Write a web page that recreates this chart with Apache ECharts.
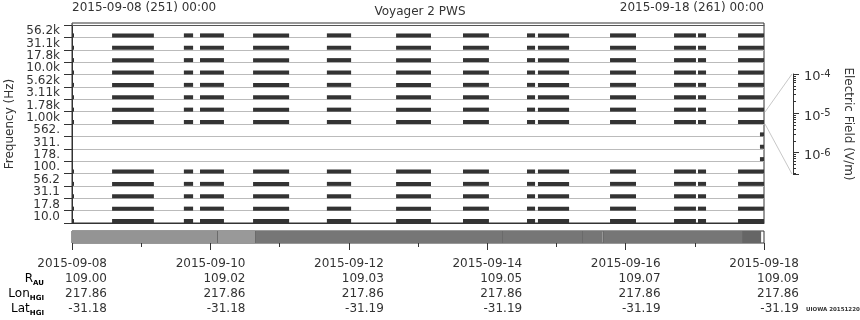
<!DOCTYPE html>
<html><head><meta charset="utf-8">
<script src="https://cdn.jsdelivr.net/npm/echarts@6/dist/echarts.min.js"></script>
<style>html,body{margin:0;padding:0;background:#fff}#c{width:860px;height:320px}</style>
</head><body><div id="c"></div>
<script>
// Frequency channels (top to bottom)
const freqLabels = ['56.2k','31.1k','17.8k','10.0k','5.62k','3.11k','1.78k','1.00k','562.','311.','178.','100.','56.2','31.1','17.8','10.0'];
// Channels with data coverage
const activeRows = ['56.2k','31.1k','17.8k','10.0k','5.62k','3.11k','1.78k','1.00k','100.','56.2','31.1','17.8','10.0'];
// Data segments, hours since 2015-09-08 00:00
const segStartHours = [0, 13.9, 38.8, 44.4, 62.8, 88.4, 112.4, 135.6, 157.8, 161.6, 186.6, 208.8, 217.1, 231.0];
const segEndHours   = [0.7, 28.4, 42.0, 52.7, 75.3, 96.8, 124.5, 144.6, 160.6, 172.4, 195.6, 216.4, 219.9, 240];
// Channels with only a short segment at the very end
const edgeRows = ['562.','311.','178.'];
const edgeStartHours = [238.6];
const edgeEndHours = [240];
// Mode strip segments
const modeStartHours = [0, 50.3, 63.5, 149.3, 177, 184, 232.4];
const modeEndHours   = [50.3, 63.5, 149.3, 177, 184, 232.4, 239];
const modeIds        = [0, 3, 1, 1, 1, 1, 2];
// Bottom tick labels (every 2 days)
const tickDates = ['2015-09-08','2015-09-10','2015-09-12','2015-09-14','2015-09-16','2015-09-18'];
const rAU    = ['109.00','109.02','109.03','109.05','109.07','109.09'];
const lonHGI = ['217.86','217.86','217.86','217.86','217.86','217.86'];
const latHGI = ['-31.18','-31.18','-31.19','-31.19','-31.19','-31.19'];
// Colour-bar field scale (V/m)
const fieldMin = 2.85e-7;
const fieldMax = 1e-4;

const modePalette = ['#949494', '#767676', '#666666', '#999999'];
const FONT = 'DejaVu Sans';
const TXT = '#333';

const barData = [];
activeRows.forEach(r => segStartHours.forEach((s, i) => barData.push([s, segEndHours[i], r])));
edgeRows.forEach(r => edgeStartHours.forEach((s, i) => barData.push([s, edgeEndHours[i], r])));
const modeData = modeStartHours.map((s, i) => [s, modeEndHours[i], modeIds[i]]);

const G = {outerBoundsMode: 'none', containLabel: false};
const chart = echarts.init(document.getElementById('c'), null, {renderer: 'canvas'});
chart.setOption({
  animation: false,
  backgroundColor: '#fff',
  textStyle: {fontFamily: FONT, color: TXT},
  grid: [
    Object.assign({left: 72, top: 23, width: 692, height: 200, show: true, borderColor: '#333', borderWidth: 1, backgroundColor: 'transparent'}, G),
    Object.assign({left: 72, top: 25, width: 692, height: 198}, G),
    Object.assign({left: 72, top: 231, width: 692, height: 12, show: true, borderColor: '#333', borderWidth: 1, backgroundColor: 'transparent'}, G),
    Object.assign({left: 793, top: 74, width: 1, height: 100}, G)
  ],
  xAxis: [
    {gridIndex: 0, type: 'value', min: 0, max: 240, show: false},
    {gridIndex: 1, type: 'value', min: 0, max: 240, position: 'bottom',
      axisLine: {show: true, lineStyle: {color: '#333'}}, axisTick: {show: false}, axisLabel: {show: false}, splitLine: {show: false}},
    {gridIndex: 1, type: 'value', min: 0, max: 240, position: 'top',
      axisLine: {show: true, lineStyle: {color: '#555'}}, axisTick: {show: false}, axisLabel: {show: false}, splitLine: {show: false}},
    {gridIndex: 2, type: 'value', min: 0, max: 240, interval: 48, position: 'bottom',
      axisLine: {show: false},
      axisTick: {show: true, length: 7, lineStyle: {color: '#333'}},
      minorTick: {show: true, splitNumber: 2, length: 4, lineStyle: {color: '#333'}},
      splitLine: {show: false},
      axisLabel: {
        margin: 13, showMinLabel: true, showMaxLabel: true, hideOverlap: false,
        formatter: function (v) {
          const i = Math.round(v / 48);
          if (Math.abs(v - i * 48) > 0.01 || tickDates[i] === undefined) return '';
          return '{d|' + tickDates[i] + '}\n{v|' + rAU[i] + '}\n{v|' + lonHGI[i] + '}\n{v|' + latHGI[i] + '}';
        },
        rich: {
          d: {fontSize: 12, lineHeight: 15, width: 70, align: 'right', color: TXT, fontFamily: FONT},
          v: {fontSize: 12, lineHeight: 15, width: 70, align: 'right', color: TXT, fontFamily: FONT}
        }
      }},
    {gridIndex: 3, type: 'value', show: false}
  ],
  yAxis: [
    {gridIndex: 0, type: 'value', show: false},
    {gridIndex: 1, type: 'category', data: freqLabels, inverse: true,
      axisLine: {show: true, lineStyle: {color: '#333'}},
      axisTick: {show: true, length: 8, interval: 0, lineStyle: {color: '#333'}},
      axisLabel: {fontSize: 12, color: TXT, margin: 12, interval: 0},
      splitLine: {show: true, interval: 0, lineStyle: {color: '#bbb'}},
      name: 'Frequency (Hz)', nameLocation: 'middle', nameGap: 54, nameRotate: 90,
      nameTextStyle: {fontSize: 12, color: TXT}},
    {gridIndex: 2, type: 'value', min: 0, max: 1, show: false},
    {gridIndex: 3, type: 'log', min: fieldMin, max: fieldMax, position: 'right', splitNumber: 3,
      axisLine: {show: true, lineStyle: {color: '#333'}},
      axisTick: {show: true, length: 6, lineStyle: {color: '#333'}},
      minorTick: {show: true, splitNumber: 9, length: 3, lineStyle: {color: '#333'}},
      splitLine: {show: false},
      axisLabel: {
        margin: 10, showMinLabel: false, showMaxLabel: true,
        formatter: function (v) {
          const e = Math.round(Math.log10(v));
          return '{b|10}{s|' + e + '}';
        },
        rich: {
          b: {fontSize: 13, lineHeight: 13, padding: [6, 0, 0, 0], color: TXT, fontFamily: FONT},
          s: {fontSize: 10, lineHeight: 10, padding: [2, 0, 0, 0], verticalAlign: 'top', color: TXT, fontFamily: FONT}
        }
      },
      name: 'Electric Field (V/m)', nameLocation: 'middle', nameGap: 48, nameRotate: -90,
      nameTextStyle: {fontSize: 12, color: TXT}}
  ],
  series: [
    {
      type: 'custom', xAxisIndex: 1, yAxisIndex: 1, data: barData, encode: {x: [0, 1], y: 2},
      renderItem: function (params, api) {
        const s = api.coord([api.value(0), api.value(2)]);
        const e = api.coord([api.value(1), api.value(2)]);
        const h = api.size([0, 1])[1];
        const bottom = s[1] + h / 2;
        return {type: 'rect', shape: {x: s[0], y: bottom - 4, width: Math.max(e[0] - s[0], 1.5), height: 4},
          style: {fill: '#333'}};
      }
    },
    {
      type: 'custom', xAxisIndex: 3, yAxisIndex: 2, data: modeData, encode: {x: [0, 1]},
      renderItem: function (params, api) {
        const s = api.coord([api.value(0), 0]);
        const e = api.coord([api.value(1), 0]);
        const cs = params.coordSys;
        const children = [{type: 'rect', shape: {x: s[0], y: cs.y, width: e[0] - s[0], height: cs.height},
          style: {fill: modePalette[api.value(2)]}}];
        if (api.value(0) > 0) {
          children.push({type: 'line', shape: {x1: Math.round(s[0]) + 0.5, y1: cs.y, x2: Math.round(s[0]) + 0.5, y2: cs.y + cs.height},
            style: {stroke: '#6a6a6a', lineWidth: 1}});
        }
        return {type: 'group', children: children};
      }
    }
  ],
  graphic: [
    {type: 'text', x: 72, y: 8, style: {text: '2015-09-08 (251) 00:00', font: '12px ' + FONT, fill: TXT, textAlign: 'left', textVerticalAlign: 'middle'}},
    {type: 'text', x: 764, y: 8, style: {text: '2015-09-18 (261) 00:00', font: '12px ' + FONT, fill: TXT, textAlign: 'right', textVerticalAlign: 'middle'}},
    {type: 'text', x: 420, y: 12, style: {text: 'Voyager 2 PWS', font: '12px ' + FONT, fill: TXT, textAlign: 'center', textVerticalAlign: 'middle'}},
    {type: 'polyline', shape: {points: [[765, 112], [792, 74]]}, style: {stroke: '#c8c8c8', lineWidth: 1}},
    {type: 'polyline', shape: {points: [[765, 124], [792, 174]]}, style: {stroke: '#c8c8c8', lineWidth: 1}},
    {type: 'text', x: 44, y: 279, style: {text: '{m|R}{s|AU}', textAlign: 'right', textVerticalAlign: 'middle',
      rich: {m: {fontSize: 12, lineHeight: 15, fontFamily: FONT, color: TXT}, s: {fontSize: 7, fontWeight: 'bold', lineHeight: 8, verticalAlign: 'bottom', fontFamily: FONT, color: TXT}}}},
    {type: 'text', x: 44, y: 294, style: {text: '{m|Lon}{s|HGI}', textAlign: 'right', textVerticalAlign: 'middle',
      rich: {m: {fontSize: 12, lineHeight: 15, fontFamily: FONT, color: TXT}, s: {fontSize: 7, fontWeight: 'bold', lineHeight: 8, verticalAlign: 'bottom', fontFamily: FONT, color: TXT}}}},
    {type: 'text', x: 44, y: 309, style: {text: '{m|Lat}{s|HGI}', textAlign: 'right', textVerticalAlign: 'middle',
      rich: {m: {fontSize: 12, lineHeight: 15, fontFamily: FONT, color: TXT}, s: {fontSize: 7, fontWeight: 'bold', lineHeight: 8, verticalAlign: 'bottom', fontFamily: FONT, color: TXT}}}},
    {type: 'text', x: 806, y: 310, style: {text: 'UIOWA 20151220', font: 'bold 5.5px ' + FONT, fill: TXT, textAlign: 'left', textVerticalAlign: 'middle'}}
  ]
});
</script>
</body></html>
